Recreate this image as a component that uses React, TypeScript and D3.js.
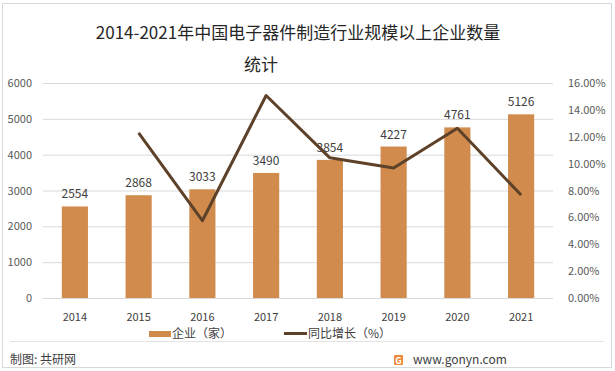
import { useEffect, useRef } from 'react'
import * as d3 from 'd3'

const years = ['2014', '2015', '2016', '2017', '2018', '2019', '2020', '2021']
const companies = [2554, 2868, 3033, 3490, 3854, 4227, 4761, 5126]
// 同比增长 (%), 2014 has no value
const growth: (number | null)[] = [null, 12.29, 5.75, 15.07, 10.43, 9.68, 12.63, 7.67]
const leftTicks = [0, 1000, 2000, 3000, 4000, 5000, 6000]
const rightTicks = [0, 2, 4, 6, 8, 10, 12, 14, 16]

const FONT = '"Noto Sans CJK SC", "Noto Sans", sans-serif'

export default function App() {
  const svgRef = useRef<SVGSVGElement>(null)

  useEffect(() => {
    const width = 615, height = 371
    const svg = d3.select(svgRef.current)
    svg.selectAll('*').remove()
    svg.attr('width', width).attr('height', height).style('background', '#fff')

    const left = 43, right = 553, top = 83, bottom = 298

    // outer frame
    svg.append('rect')
      .attr('x', 2.5).attr('y', 3.5).attr('width', 609).attr('height', 364)
      .attr('fill', 'none').attr('stroke', '#d9d9d9')

    // title
    svg.append('text').text('2014-2021年中国电子器件制造行业规模以上企业数量')
      .attr('x', 298).attr('y', 39).attr('text-anchor', 'middle')
      .attr('font-size', 17).attr('fill', '#262626').attr('font-family', FONT)
    svg.append('text').text('统计')
      .attr('x', 261).attr('y', 71).attr('text-anchor', 'middle')
      .attr('font-size', 17).attr('fill', '#262626').attr('font-family', FONT)

    const x = d3.scaleBand().domain(years).range([left, right]).paddingInner(0.59).paddingOuter(0.295)
    const y = d3.scaleLinear().domain([0, 6000]).range([bottom, top])
    const y2 = d3.scaleLinear().domain([0, 16]).range([bottom, top])

    // gridlines
    svg.append('g').selectAll('line').data(leftTicks).enter().append('line')
      .attr('x1', left).attr('x2', right)
      .attr('y1', d => y(d) + 0.5).attr('y2', d => y(d) + 0.5)
      .attr('stroke', '#d9d9d9').attr('stroke-width', 1)

    // left axis labels
    svg.append('g').selectAll('text').data(leftTicks).enter().append('text')
      .text(d => d)
      .attr('x', 32).attr('y', d => y(d) + 4).attr('text-anchor', 'end')
      .attr('font-size', 11).attr('fill', '#595959').attr('font-family', FONT)

    // right axis labels
    svg.append('g').selectAll('text').data(rightTicks).enter().append('text')
      .text(d => d.toFixed(2) + '%')
      .attr('x', 568).attr('y', d => y2(d) + 4)
      .attr('font-size', 11).attr('fill', '#595959').attr('font-family', FONT)

    // bars
    svg.append('g').selectAll('rect').data(companies).enter().append('rect')
      .attr('x', (d, i) => x(years[i])!)
      .attr('y', d => y(d))
      .attr('width', x.bandwidth())
      .attr('height', d => bottom - y(d))
      .attr('fill', '#d08b4d')

    // bar labels
    svg.append('g').selectAll('text').data(companies).enter().append('text')
      .text(d => d)
      .attr('x', (d, i) => x(years[i])! + x.bandwidth() / 2)
      .attr('y', d => y(d) - 8)
      .attr('text-anchor', 'middle')
      .attr('font-size', 12).attr('fill', '#404040').attr('font-family', FONT)

    // x labels
    svg.append('g').selectAll('text').data(years).enter().append('text')
      .text(d => d)
      .attr('x', d => x(d)! + x.bandwidth() / 2)
      .attr('y', 321)
      .attr('text-anchor', 'middle')
      .attr('font-size', 11).attr('fill', '#404040').attr('font-family', FONT)

    // growth line
    const pts = growth.map((g, i) => ({ g, yr: years[i] })).filter(p => p.g !== null)
    const line = d3.line<{ g: number | null, yr: string }>()
      .x(d => x(d.yr)! + x.bandwidth() / 2)
      .y(d => y2(d.g as number))
    svg.append('path')
      .datum(pts)
      .attr('d', line)
      .attr('fill', 'none')
      .attr('stroke', '#5e4129')
      .attr('stroke-width', 3)
      .attr('stroke-linejoin', 'round')

    // legend
    const lg = svg.append('g').attr('font-family', FONT).attr('font-size', 12).attr('fill', '#404040')
    lg.append('rect').attr('x', 149).attr('y', 331).attr('width', 22).attr('height', 6).attr('fill', '#d08b4d')
    lg.append('text').text('企业（家）').attr('x', 172).attr('y', 338)
    lg.append('line').attr('x1', 284).attr('x2', 307).attr('y1', 333.5).attr('y2', 333.5)
      .attr('stroke', '#5e4129').attr('stroke-width', 3)
    lg.append('text').text('同比增长（%）').attr('x', 308).attr('y', 338)

    // footer separator
    svg.append('line').attr('x1', 10).attr('x2', 604).attr('y1', 341.5).attr('y2', 341.5)
      .attr('stroke', '#e3e3e3')

    svg.append('text').text('制图: 共研网')
      .attr('x', 10).attr('y', 364)
      .attr('font-size', 12).attr('fill', '#404040').attr('font-family', FONT)

    // logo + url
    svg.append('rect').attr('x', 394).attr('y', 355).attr('width', 9).attr('height', 10)
      .attr('fill', '#f08a3c').attr('rx', 1)
    svg.append('text').text('G').attr('x', 398.5).attr('y', 363.5).attr('text-anchor', 'middle')
      .attr('font-size', 9).attr('font-weight', 'bold').attr('fill', '#fff').attr('font-family', FONT)
    svg.append('text').text('www.gonyn.com')
      .attr('x', 413).attr('y', 364)
      .attr('font-size', 12).attr('fill', '#404040').attr('font-family', FONT)
  }, [])

  return (
    <div style={{ position: 'fixed', left: 0, top: 0 }}>
      <svg ref={svgRef} style={{ display: 'block' }} />
    </div>
  )
}
